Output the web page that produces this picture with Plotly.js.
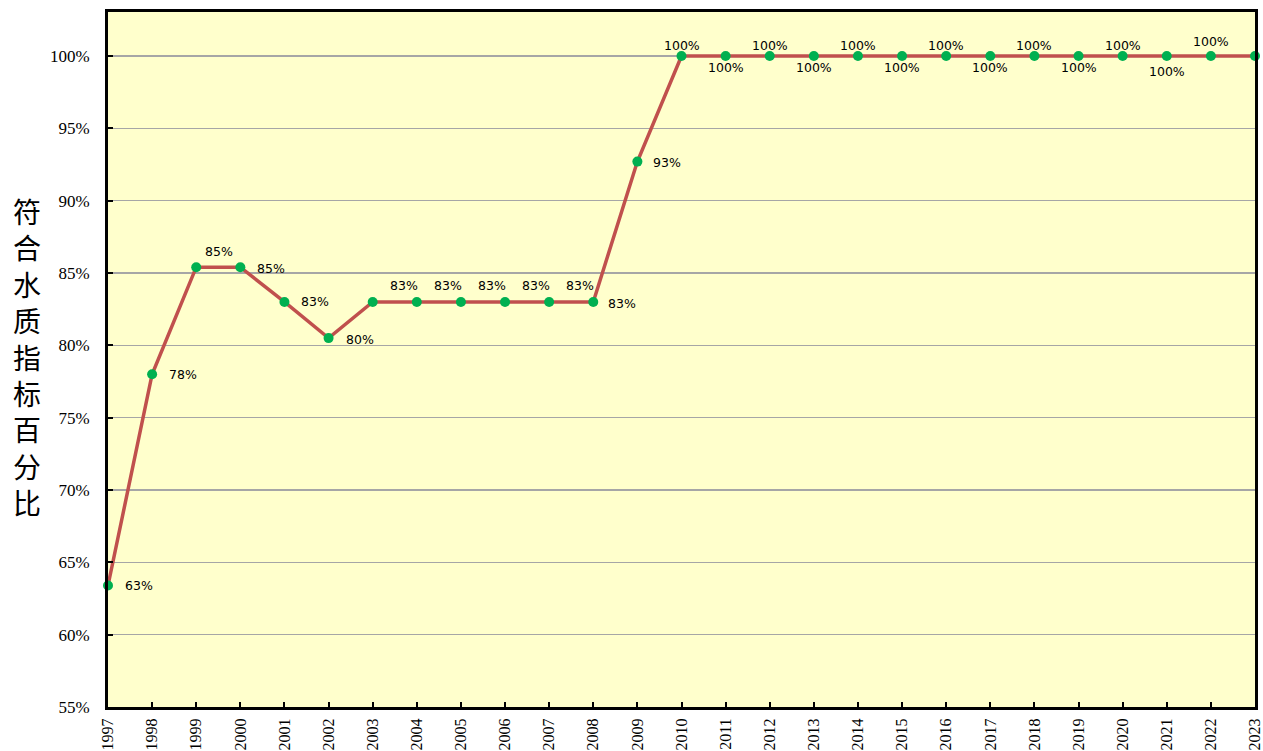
<!DOCTYPE html>
<html><head><meta charset="utf-8">
<script src="https://cdn.plot.ly/plotly-3.0.1.min.js"></script>
<style>html,body{margin:0;padding:0;background:#fff;}#chart{width:1263px;height:751px;}</style>
</head><body><div id="chart"></div>
<script>
const years = [1997,1998,1999,2000,2001,2002,2003,2004,2005,2006,2007,2008,2009,2010,2011,2012,2013,2014,2015,2016,2017,2018,2019,2020,2021,2022,2023];
const percent = [63.4,78.0,85.4,85.4,83.0,80.5,83.0,83.0,83.0,83.0,83.0,83.0,92.7,100,100,100,100,100,100,100,100,100,100,100,100,100,100];
const labels = ['63%','78%','85%','85%','83%','80%','83%','83%','83%','83%','83%','83%','93%','100%','100%','100%','100%','100%','100%','100%','100%','100%','100%','100%','100%','100%',''];
// label placement: [anchor, xshift, yshift]
const labelPlace = [
  ['left',15,0],['left',15,0],['left',7,16],['left',15,-1],['left',15,0],['left',15,-1],
  ['left',15,16],['left',15,16],['left',15,16],['left',15,16],['left',15,16],['left',13,-2],['left',14,-1],
  ['center',0,10],['center',0,-12],['center',0,10],['center',0,-12],['center',0,10],['center',0,-12],
  ['center',0,10],['center',0,-12],['center',0,10],['center',0,-12],['center',0,10],['center',0,-16],['center',0,14],['center',0,10]
];
const yTicks = [55,60,65,70,75,80,85,90,95,100];
const yTitle = '符合水质指标百分比';

const trace = {
  x: years, y: percent,
  mode: 'lines+markers', type: 'scatter', cliponaxis: false,
  line: {color: '#C0504D', width: 3.5},
  marker: {color: '#00B050', size: 10},
  hoverinfo: 'none'
};
const annotations = years.map((yr, i) => ({
  x: yr, y: percent[i], xref: 'x', yref: 'y', text: labels[i], showarrow: false,
  xanchor: labelPlace[i][0], yanchor: 'middle', xshift: labelPlace[i][1], yshift: labelPlace[i][2],
  font: {family: 'DejaVu Sans', size: 12.5, color: '#000'}
})).filter(a => a.text !== '');
annotations.push({
  xref: 'paper', yref: 'paper', x: -0.0706, y: 0.505, xanchor: 'center', yanchor: 'middle',
  text: yTitle.split('').join('<br>'), showarrow: false,
  font: {family: 'Noto Sans CJK SC', size: 28, color: '#000'}
});
const layout = {
  width: 1263, height: 751,
  margin: {l: 108, r: 8, t: 12, b: 44},
  paper_bgcolor: '#ffffff', plot_bgcolor: '#FFFFCC',
  showlegend: false,
  xaxis: {
    range: [1997, 2023], tickmode: 'array', tickvals: years, ticktext: years.map(String),
    tickangle: -90, tickfont: {family: 'Liberation Serif', size: 16, color: '#000'},
    ticks: 'inside', ticklen: 5, tickwidth: 2, tickcolor: '#000', ticklabelstandoff: 2,
    ticklabeloverflow: 'allow',
    showgrid: false, zeroline: false,
    showline: true, linecolor: '#000', linewidth: 3, mirror: true
  },
  yaxis: {
    range: [55, 103.04], tickmode: 'array', tickvals: yTicks, ticktext: yTicks.map(v => v + '%'),
    tickfont: {family: 'Liberation Serif', size: 17, color: '#000'},
    ticks: 'inside', ticklen: 5, tickwidth: 2, tickcolor: '#000', ticklabelstandoff: 12,
    showgrid: true, gridcolor: '#A6A6A6', gridwidth: 1.3, zeroline: false,
    showline: true, linecolor: '#000', linewidth: 3, mirror: true
  },
  annotations: annotations
};
Plotly.newPlot('chart', [trace], layout, {displayModeBar: false, staticPlot: true});
</script></body></html>
